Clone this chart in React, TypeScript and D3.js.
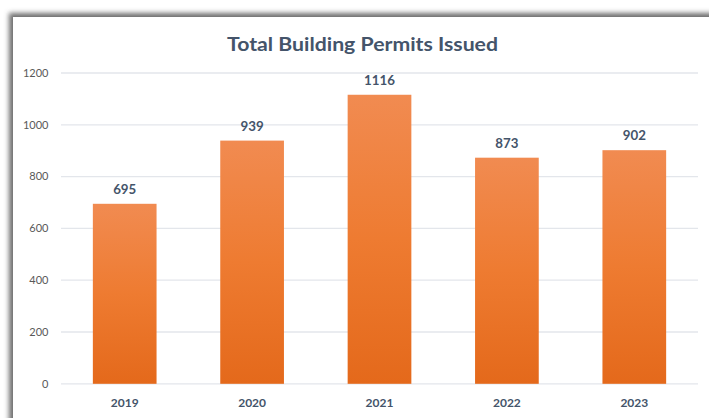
import React from "react";
import * as d3 from "d3";

const years = ["2019", "2020", "2021", "2022", "2023"];
const permits = [695, 939, 1116, 873, 902];
const yTicks = [0, 200, 400, 600, 800, 1000, 1200];
const title = "Total Building Permits Issued";

const W = 709;
const H = 418;

export default function App() {
  const x = d3
    .scaleBand<string>()
    .domain(years)
    .range([61, 698])
    .paddingInner(0.5)
    .paddingOuter(0.25);
  const y = d3.scaleLinear().domain([0, 1200]).range([383.8, 73]);
  const font = "Lato, 'Open Sans', sans-serif";

  return (
    <div style={{ position: "absolute", left: 0, top: 0 }}>
      <svg width={W} height={H} style={{ display: "block" }}>
        <defs>
          <filter id="sh" x="-10%" y="-10%" width="120%" height="120%">
            <feGaussianBlur stdDeviation="2.6" />
          </filter>
          <linearGradient id="barg" x1="0" y1="0" x2="0" y2="1">
            <stop offset="0%" stopColor="#F18B51" />
            <stop offset="50%" stopColor="#EE7B31" />
            <stop offset="100%" stopColor="#E4691B" />
          </linearGradient>
        </defs>
        <rect x={0} y={0} width={W} height={H} fill="#ffffff" />
        <rect x={9} y={13} width={W + 40} height={H + 40} fill="#6e6e6e" filter="url(#sh)" />
        <rect x={13} y={17} width={W} height={H} fill="#ffffff" />

        <text
          x={362.5}
          y={50.5}
          textAnchor="middle"
          fontFamily={font}
          fontWeight="bold"
          fontSize={19.5}
          fill="#44546A"
          textLength={271}
          lengthAdjust="spacingAndGlyphs"
        >
          {title}
        </text>

        {yTicks.map((t) => (
          <g key={t}>
            <line x1={61} x2={698} y1={y(t)} y2={y(t)} stroke="#E3E6EB" strokeWidth={1.3} />
            <text
              x={48.5}
              y={y(t)}
              dy="0.35em"
              textAnchor="end"
              fontFamily={font}
              fontSize={11}
              fill="#595959"
            >
              {t}
            </text>
          </g>
        ))}

        {years.map((yr, i) => (
          <g key={yr}>
            <rect
              x={x(yr)}
              y={y(permits[i])}
              width={x.bandwidth()}
              height={y(0) - y(permits[i])}
              fill="url(#barg)"
            />
            <text
              x={(x(yr) as number) + x.bandwidth() / 2}
              y={y(permits[i]) - 10}
              textAnchor="middle"
              fontFamily={font}
              fontWeight="bold"
              fontSize={13.3}
              fill="#44546A"
            >
              {permits[i]}
            </text>
            <text
              x={(x(yr) as number) + x.bandwidth() / 2}
              y={407}
              textAnchor="middle"
              fontFamily={font}
              fontWeight="bold"
              fontSize={12}
              fill="#44546A"
            >
              {yr}
            </text>
          </g>
        ))}
      </svg>
    </div>
  );
}
